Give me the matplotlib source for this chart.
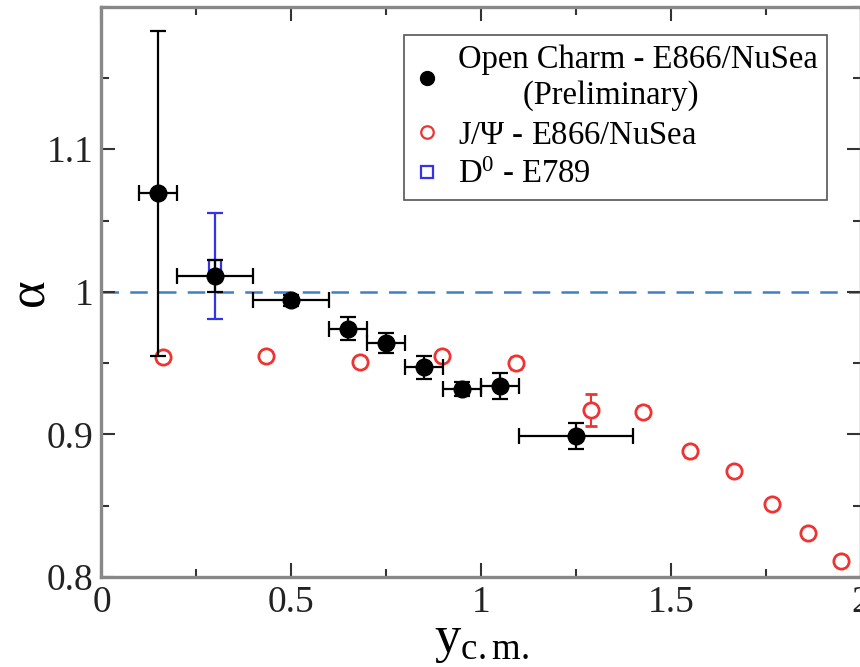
import matplotlib
matplotlib.use("Agg")
import matplotlib.pyplot as plt
from matplotlib.lines import Line2D
from matplotlib.ticker import MultipleLocator

plt.rcParams["font.family"] = ["Liberation Serif", "DejaVu Serif"]
plt.rcParams["mathtext.fontset"] = "custom"
plt.rcParams["mathtext.rm"] = "Liberation Serif"
plt.rcParams["mathtext.it"] = "Liberation Serif:italic"

# Open charm, E866/NuSea (preliminary)
oc_y = [0.15, 0.30, 0.50, 0.65, 0.75, 0.85, 0.95, 1.05, 1.25]
oc_alpha = [1.069, 1.011, 0.994, 0.974, 0.964, 0.947, 0.932, 0.934, 0.899]
oc_xlo = [0.05, 0.10, 0.10, 0.05, 0.05, 0.05, 0.05, 0.05, 0.15]
oc_xhi = [0.05, 0.10, 0.10, 0.05, 0.05, 0.05, 0.05, 0.05, 0.15]
oc_err = [0.114, 0.011, 0.004, 0.008, 0.007, 0.008, 0.005, 0.009, 0.009]

# J/Psi, E866/NuSea
jp_y = [0.163, 0.432, 0.68, 0.898, 1.093, 1.288, 1.426, 1.55, 1.665, 1.766, 1.86, 1.948]
jp_alpha = [0.954, 0.955, 0.951, 0.955, 0.950, 0.917, 0.916, 0.888, 0.874, 0.851, 0.831, 0.811]
jp_err = [0.0, 0.0, 0.0, 0.0, 0.004, 0.011, 0.004, 0.004, 0.003, 0.003, 0.003, 0.003]

# D0, E789
d0_y = [0.30]
d0_alpha = [1.018]
d0_err = [0.037]

labels = ["Open Charm - E866/NuSea\n        (Preliminary)",
          r"J/$\Psi$ - E866/NuSea",
          r"D$^{\mathrm{0}}$ - E789"]

fig = plt.figure(figsize=(8.6, 6.67), dpi=100)
ax = fig.add_axes([0.118, 0.135, 0.883, 0.855])

ax.axhline(1.0, color="#3f7fc8", lw=1.8, dashes=(7, 4.5), zorder=1)

ax.errorbar(jp_y, jp_alpha, yerr=jp_err, fmt="o", ms=11, mfc="white",
            mec="#ee3333", mew=2.0, ecolor="#ee3333", elinewidth=1.5,
            capsize=4.5, capthick=1.5, zorder=3)
ax.errorbar(d0_y, d0_alpha, yerr=d0_err, fmt="s", ms=8.5, mfc="none",
            mec="#3333ee", mew=1.6, ecolor="#3333ee", elinewidth=1.6,
            capsize=6, capthick=1.6, zorder=4)
ax.errorbar(oc_y, oc_alpha, xerr=[oc_xlo, oc_xhi], yerr=oc_err, fmt="o",
            ms=12, mfc="black", mec="black", ecolor="black",
            elinewidth=1.6, capsize=6, capthick=1.6, zorder=5)

ax.set_xlim(0, 2)
ax.set_ylim(0.8, 1.2)
ax.xaxis.set_minor_locator(MultipleLocator(0.25))
ax.yaxis.set_minor_locator(MultipleLocator(0.05))
ax.set_xticks([0, 0.5, 1, 1.5, 2])
ax.set_xticklabels(["0", "0.5", "1", "1.5", "2"])
ax.set_yticks([0.8, 0.9, 1.0, 1.1])
ax.set_yticklabels(["0.8", "0.9", "1", "1.1"])

for s in ax.spines.values():
    s.set_color("#888888")
    s.set_linewidth(2.4)
ax.tick_params(which="both", direction="in", top=True, right=True,
               color="#333333", width=1.5, labelsize=27, labelcolor="#222222")
ax.tick_params(which="major", length=10, pad=6)
ax.tick_params(which="minor", length=6)

ax.set_ylabel("α", fontsize=38, labelpad=-6)
ax.set_xlabel(r"$\mathrm{y_{c.m.}}$", fontsize=38, labelpad=-2)

handles = [
    Line2D([], [], ls="none", marker="o", ms=10, mfc="black", mec="black"),
    Line2D([], [], ls="none", marker="o", ms=9, mfc="white", mec="#ee3333", mew=1.6),
    Line2D([], [], ls="none", marker="s", ms=8, mfc="none", mec="#3333ee", mew=1.6),
]
leg = ax.legend(handles, labels, loc="upper left", bbox_to_anchor=(0.398, 0.95),
                fontsize=23.5, frameon=True, fancybox=False, framealpha=1,
                edgecolor="#555555", handlelength=0.8, handletextpad=0.55,
                borderpad=0.3, labelspacing=0.28, borderaxespad=0)
leg.get_frame().set_linewidth(1.2)

fig.savefig("out.png", dpi=100)
